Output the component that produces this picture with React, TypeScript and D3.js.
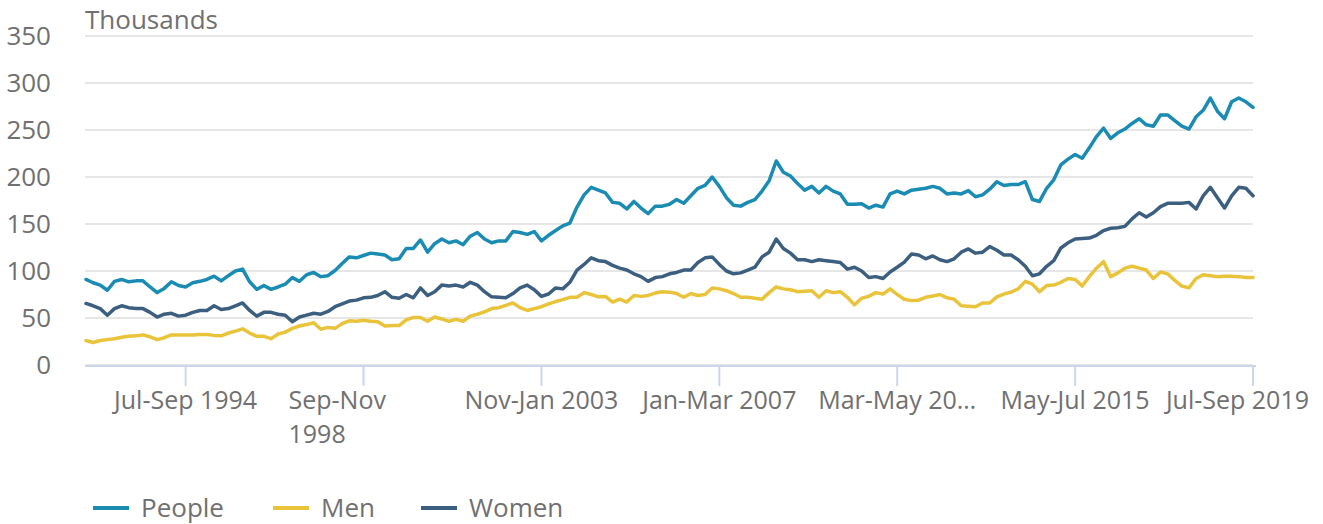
import React from "react";
import * as d3 from "d3";

const MONTHS = ["Jan","Feb","Mar","Apr","May","Jun","Jul","Aug","Sep","Oct","Nov","Dec"];

// Rolling quarters, sampled every two months from Mar-May 1992 to Jul-Sep 2019
const categories: string[] = d3.range(165).map((k) => {
  const m = 2 + 2 * k;
  const s = m % 12;
  const endYear = 1992 + Math.floor((m + 2) / 12);
  return `${MONTHS[s]}-${MONTHS[(s + 2) % 12]} ${endYear}`;
});

const people = [
  91, 87.5, 85, 79.5, 89, 91, 88.5, 89.5, 89.5, 83,
  77, 81.5, 88.5, 84.5, 83, 87.5, 89, 91, 94.5, 89.5,
  95, 100, 102, 88.5, 80.5, 84.5, 80.5, 83, 86, 93,
  89, 96, 98.5, 94, 95, 100.5, 108, 115, 114, 116.5,
  119, 118, 117, 112, 113, 124, 124, 133, 120, 129,
  134, 130, 132, 128, 137, 141, 134, 130, 132, 132,
  142, 141, 139, 142, 132, 138, 143, 148, 151, 168,
  181, 189, 186, 183, 173, 172, 166, 174, 167, 161,
  169, 169, 171, 176, 172, 180, 188, 191, 200, 190,
  178, 170, 169, 173, 176, 185, 196, 217, 205, 201,
  193, 186, 190, 183, 190, 185, 182, 171, 171, 171.5,
  167, 170, 168, 182, 185, 182, 186, 187, 188, 190,
  188, 182, 183, 182, 185.5, 179, 181, 187, 195, 191,
  192, 192, 195, 176, 174, 188, 197, 213, 219, 224,
  220, 231, 243, 252, 241, 247, 251, 257, 262, 255.5,
  254, 266, 266, 260, 254, 251, 264, 271, 284, 270,
  262, 280, 284, 280, 274,
];

const men = [
  26, 24, 26, 27, 28, 29.5, 30.5, 31, 32, 30,
  27, 29, 32, 32, 32, 32, 32.5, 32.5, 31.5, 31,
  34, 36, 38.5, 34, 30.5, 30.5, 28, 33, 35, 39,
  41.5, 43, 45, 38, 40, 39, 44, 47, 46.5, 47.5,
  46.5, 46, 41.5, 42, 42, 48, 50.5, 50.5, 46.5, 51,
  49, 46.5, 48.5, 46.5, 52, 54, 56.5, 60, 61, 63.5,
  66, 61, 58, 60, 62, 65, 67.5, 69.5, 72, 72,
  77, 75, 72.5, 73, 67, 70, 67, 74, 73, 74,
  76.5, 78, 77.5, 76, 72, 76, 74, 75, 82, 81,
  79, 76, 72, 72, 71, 70, 77, 83, 81, 80,
  78, 78.5, 79, 72, 79, 77, 78, 72, 64, 71,
  73, 77, 75.5, 81, 75, 70, 68.5, 69, 72, 73.5,
  75, 71.5, 70, 63, 62.5, 62, 66, 66, 72.5, 75.5,
  77.5, 81, 89, 86, 78, 84.5, 85, 88, 92, 91,
  84, 94, 103, 110, 94, 98, 103, 105, 103, 101,
  92, 99, 97, 90, 84, 82, 92, 96, 95, 94,
  94.5, 94.5, 94, 93, 93,
];

const women = [
  65.5, 63, 60, 53, 60, 63, 61, 60, 60, 56,
  51, 54, 55, 52, 53, 56, 58, 58, 63, 59,
  60, 63, 66, 58, 52, 56, 56, 54, 53, 46,
  51, 53, 55, 54, 57, 62, 65, 68, 69, 71.5,
  72, 74, 78, 72, 71, 75, 71.5, 82, 74, 78,
  85, 84, 85, 83, 88, 85, 78, 72.5, 72, 71.5,
  76, 82, 85, 80, 73, 75.5, 82, 81, 88, 101,
  107, 114, 111, 110, 106, 103, 101, 97, 94, 89,
  93, 94, 97, 98.5, 101, 101, 109, 114, 115, 107,
  100, 97, 98, 101, 104, 115, 120, 134, 124, 119,
  112, 112, 110, 112, 111, 110, 109, 102, 104, 100,
  93, 94, 92, 99, 104, 109.5, 118, 117, 113, 116,
  112, 110, 113, 120, 123.5, 119, 120, 126, 122, 117,
  117, 112, 105, 95, 97, 105, 111, 124.5, 130, 134,
  134.5, 135, 138, 143, 145.5, 146, 147.5, 155.5, 162, 157.5,
  162, 168.5, 172, 172, 172, 173, 166, 180, 189, 178,
  167, 180, 189, 188, 180,
];

const yTicks = [0, 50, 100, 150, 200, 250, 300, 350];
const tickCategories = ["Jul-Sep 1994", "Sep-Nov 1998", "Nov-Jan 2003", "Jan-Mar 2007", "Mar-May 2011", "May-Jul 2015", "Jul-Sep 2019"];
const tickLabels = [["Jul-Sep 1994"], ["Sep-Nov", "1998"], ["Nov-Jan 2003"], ["Jan-Mar 2007"], ["Mar-May 20…"], ["May-Jul 2015"], ["Jul-Sep 2019"]];

const seriesNames = ["People", "Men", "Women"];
const seriesColors = ["#1a8bb3", "#e9c33a", "#3c5f80"];
const seriesData = [people, men, women];

const W = 1323, H = 524;
const FONT = "'Open Sans', sans-serif";
const TXT = "#707070";

export default function App() {
  const x = d3.scalePoint<string>().domain(categories).range([86, 1253]);
  const y = d3.scaleLinear().domain([0, 350]).range([365, 36]);
  const line = (vals: number[]) =>
    d3.line<number>()
      .x((_, i) => x(categories[i]) as number)
      .y((d) => y(d))(vals) as string;

  const legendX = [93, 273, 421];

  return (
    <div style={{ position: "absolute", left: 0, top: 0 }}>
      <svg width={W} height={H} style={{ display: "block", fontFamily: FONT }}>
        <rect width={W} height={H} fill="#fff" />
        {yTicks.map((t) => (
          <g key={t}>
            <line x1={85} x2={1253} y1={y(t)} y2={y(t)} stroke="#e6e6e6" strokeWidth={1.8} />
            <text x={51} y={y(t) + 9} textAnchor="end" fontSize={26} fill={TXT}>{t}</text>
          </g>
        ))}
        <text x={85} y={29} fontSize={26} fill={TXT}>Thousands</text>
        <line x1={85} x2={1256} y1={366} y2={366} stroke="#ccd6eb" strokeWidth={2} />
        {tickCategories.map((c, j) => {
          const tx = x(c) as number;
          const last = j === tickCategories.length - 1;
          const wrapped = tickLabels[j].length > 1;
          const lx = last ? 1309 : wrapped ? tx - 75 : tx;
          const anchor = last ? "end" : wrapped ? "start" : "middle";
          return (
            <g key={c}>
              <line x1={tx} x2={tx} y1={366} y2={386} stroke="#ccd6eb" strokeWidth={2} />
              {tickLabels[j].map((ln, li) => (
                <text key={li} x={lx} y={409 + li * 34}
                  textAnchor={anchor} fontSize={25} fill={TXT}>{ln}</text>
              ))}
            </g>
          );
        })}
        {seriesData.map((vals, s) => (
          <path key={s} d={line(vals)} fill="none" stroke={seriesColors[s]} strokeWidth={3.5}
            strokeLinejoin="round" strokeLinecap="round" />
        ))}
        {seriesNames.map((n, s) => (
          <g key={n}>
            <line x1={legendX[s]} x2={legendX[s] + 36} y1={508} y2={508} stroke={seriesColors[s]} strokeWidth={4} />
            <text x={legendX[s] + 48} y={517} fontSize={26} fill={TXT}>{n}</text>
          </g>
        ))}
      </svg>
    </div>
  );
}
